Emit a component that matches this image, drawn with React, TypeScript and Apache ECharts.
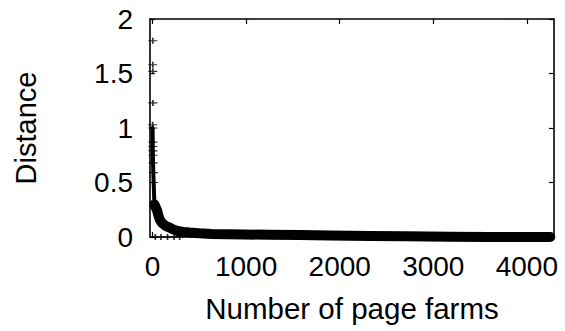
import React, { useEffect, useRef } from "react";
import * as echarts from "echarts";

// Tick positions
const xTicks = [0, 1000, 2000, 3000, 4000];
const yTicks = [0, 0.5, 1, 1.5, 2];

// Steep head of the distance curve (first few page farms)
const headX = [0, 1, 2, 3, 5, 8, 12, 16, 20];
const headY = [1.0, 0.98, 0.9, 0.8, 0.7, 0.6, 0.5, 0.4, 0.3];

// Long tail of the distance curve
const tailX = [20, 35, 50, 62, 75, 100, 128, 150, 180, 220, 267, 330, 395, 500, 630, 800, 985, 1250, 1570, 1900, 2320, 2700, 3180, 3600, 4030, 4250];
const tailY = [0.3, 0.27, 0.24, 0.2, 0.165, 0.13, 0.11, 0.097, 0.087, 0.07, 0.055, 0.047, 0.041, 0.034, 0.028, 0.025, 0.023, 0.02, 0.018, 0.013, 0.009, 0.006, 0.003, 0.001, 0.0, 0.0];

// Individual samples scattered near the origin
const spikeX = [3, 3, 3, 4, 2, 4, 5, 4, 5, 6, 7, 9, 12, 30, 90, 160, 230, 290];
const spikeY = [1.8, 1.58, 1.52, 1.23, 1.03, 1.0, 0.87, 0.83, 0.79, 0.75, 0.68, 0.59, 0.5, 0.0, 0.0, 0.0, 0.0, 0.0];

const FONT = "Liberation Sans, Arial, Helvetica, sans-serif";
const BLACK = "#000";

const zip = (xs: number[], ys: number[]) => xs.map((x, i) => [x, ys[i]]);

export default function App() {
  const ref = useRef<HTMLDivElement>(null);

  useEffect(() => {
    if (!ref.current) return;
    const chart = echarts.init(ref.current, undefined, { renderer: "svg" });

    const axisLine = { show: true, onZero: false, lineStyle: { color: BLACK, width: 1.6 } };
    const tickStyle = { color: BLACK, width: 1.2 };
    const labelStyle = { fontSize: 28, color: BLACK, fontFamily: FONT };

    chart.setOption({
      animation: false,
      backgroundColor: "#fff",
      grid: { left: 150, right: 11, top: 19, bottom: 94, containLabel: false },
      xAxis: [
        {
          type: "value",
          min: -27,
          max: 4290,
          position: "bottom",
          axisLine,
          axisTick: { show: true, inside: true, length: 5, customValues: xTicks, lineStyle: tickStyle },
          axisLabel: {
            ...labelStyle,
            customValues: xTicks,
            margin: 15,
            formatter: (v: number) => String(v),
          },
          splitLine: { show: false },
          name: "Number of page farms",
          nameLocation: "middle",
          nameGap: 56,
          nameTextStyle: { fontSize: 29.5, color: BLACK, fontFamily: FONT },
        },
        {
          type: "value",
          min: -27,
          max: 4290,
          position: "top",
          axisLine,
          axisTick: { show: true, inside: true, length: 5, customValues: xTicks, lineStyle: tickStyle },
          axisLabel: { show: false },
          splitLine: { show: false },
        },
      ],
      yAxis: [
        {
          type: "value",
          min: 0,
          max: 2,
          interval: 0.5,
          position: "left",
          axisLine,
          axisTick: { show: true, inside: true, length: 5, lineStyle: tickStyle },
          axisLabel: {
            ...labelStyle,
            margin: 17,
            formatter: (v: number) => (yTicks.includes(v) ? String(v) : ""),
          },
          splitLine: { show: false },
          name: "Distance",
          nameLocation: "middle",
          nameRotate: 90,
          nameGap: 110,
          nameTextStyle: { fontSize: 29, color: BLACK, fontFamily: FONT },
        },
        {
          type: "value",
          min: 0,
          max: 2,
          interval: 0.5,
          position: "right",
          axisLine,
          axisTick: { show: true, inside: true, length: 5, lineStyle: tickStyle },
          axisLabel: { show: false },
          splitLine: { show: false },
        },
      ],
      series: [
        {
          type: "line",
          name: "tail",
          data: zip(tailX, tailY),
          symbol: "none",
          clip: false,
          lineStyle: { color: BLACK, width: 10, join: "round", cap: "round" },
        },
        {
          type: "line",
          name: "head",
          data: zip(headX, headY),
          symbol: "none",
          clip: false,
          lineStyle: { color: BLACK, width: 4, join: "round", cap: "round" },
        },
        {
          type: "scatter",
          name: "samples",
          data: zip(spikeX, spikeY),
          symbol: "path://M0,5L10,5M5,0L5,10",
          symbolSize: [9, 6],
          clip: false,
          itemStyle: { color: "none", borderColor: BLACK, borderWidth: 1.4 },
        },
      ],
    });

    return () => chart.dispose();
  }, []);

  return (
    <div
      ref={ref}
      style={{ position: "fixed", left: 0, top: 0, width: 565, height: 331, background: "#fff" }}
    />
  );
}
